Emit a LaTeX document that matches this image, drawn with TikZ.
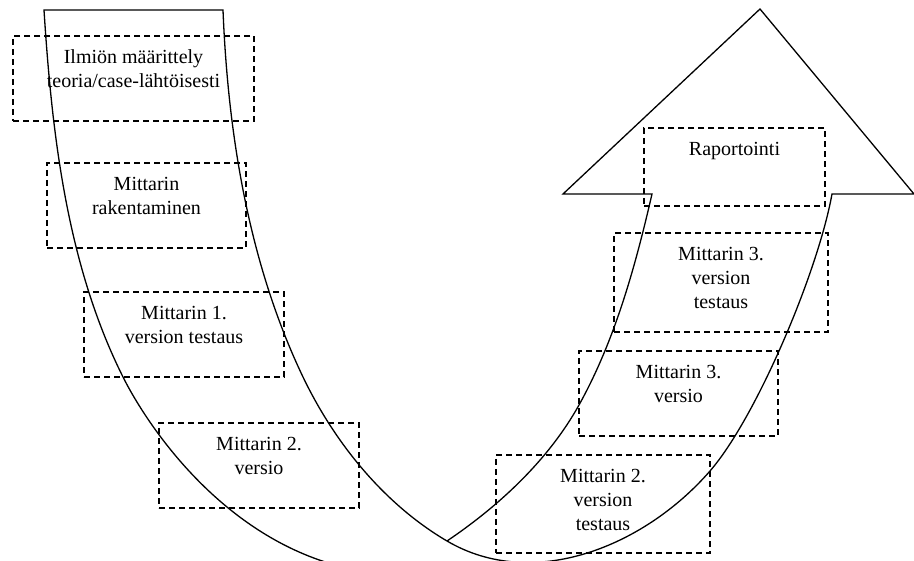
\documentclass[tikz,border=0pt]{standalone}
\usepackage{fontspec}
\setmainfont{Liberation Serif}
\usepackage{tikz}

\begin{document}
\begin{tikzpicture}[x=1pt, y=-1pt, line width=1.3pt,
    stage/.style={draw, dash pattern=on 6pt off 4pt, inner sep=0pt},
    stagetext/.style={anchor=north, align=center, inner sep=0pt, yshift=-14pt,
      font=\fontsize{20}{24}\selectfont}]
  \useasboundingbox (0,0) rectangle (914,561);
  % the curved arrow
  \begin{scope}
    \clip (0,0) rectangle (914,561);
    \draw (330,563.5) .. controls (215,528.7) and (145.4,421.7) .. (123,377)
      .. controls (67,265) and (52,135) .. (44,10)
      -- (223,10)
      .. controls (228,135) and (249,264) .. (303,377)
      .. controls (334.6,442.8) and (384,504) .. (447,541)
      .. controls (533.2,591.7) and (644.4,546.5) .. (710,471)
      .. controls (755.9,418.2) and (817.8,272.7) .. (832,194)
      -- (914,194) -- (760,9) -- (563,194) -- (652,194)
      .. controls (635.4,266.1) and (615,340.3) .. (579,405)
      .. controls (548.4,460) and (499.3,505.7) .. (447,541);
  \end{scope}
  % stages
  \node[stage, minimum width=241pt, minimum height=85pt,
    label={[stagetext]north:Ilmiön määrittely\\teoria/case-lähtöisesti}] (maarittely) at (133.5,78.5) {};
  \node[stage, minimum width=199pt, minimum height=85pt,
    label={[stagetext]north:Mittarin\\rakentaminen}] (rakentaminen) at (146.5,205.5) {};
  \node[stage, minimum width=200pt, minimum height=85pt,
    label={[stagetext]north:Mittarin 1.\\version testaus}] (testaus1) at (184,334.5) {};
  \node[stage, minimum width=200pt, minimum height=85pt,
    label={[stagetext]north:Mittarin 2.\\versio}] (versio2) at (259,465.5) {};
  \node[stage, minimum width=214pt, minimum height=98pt,
    label={[stagetext]north:Mittarin 2.\\version\\testaus}] (testaus2) at (603,504) {};
  \node[stage, minimum width=199pt, minimum height=85pt,
    label={[stagetext]north:Mittarin 3.\\versio}] (versio3) at (678.5,393.5) {};
  \node[stage, minimum width=214pt, minimum height=99pt,
    label={[stagetext]north:Mittarin 3.\\version\\testaus}] (testaus3) at (721,282.5) {};
  \node[stage, minimum width=181pt, minimum height=78pt,
    label={[stagetext]north:Raportointi}] (raportointi) at (734.5,167) {};
\end{tikzpicture}
\end{document}
